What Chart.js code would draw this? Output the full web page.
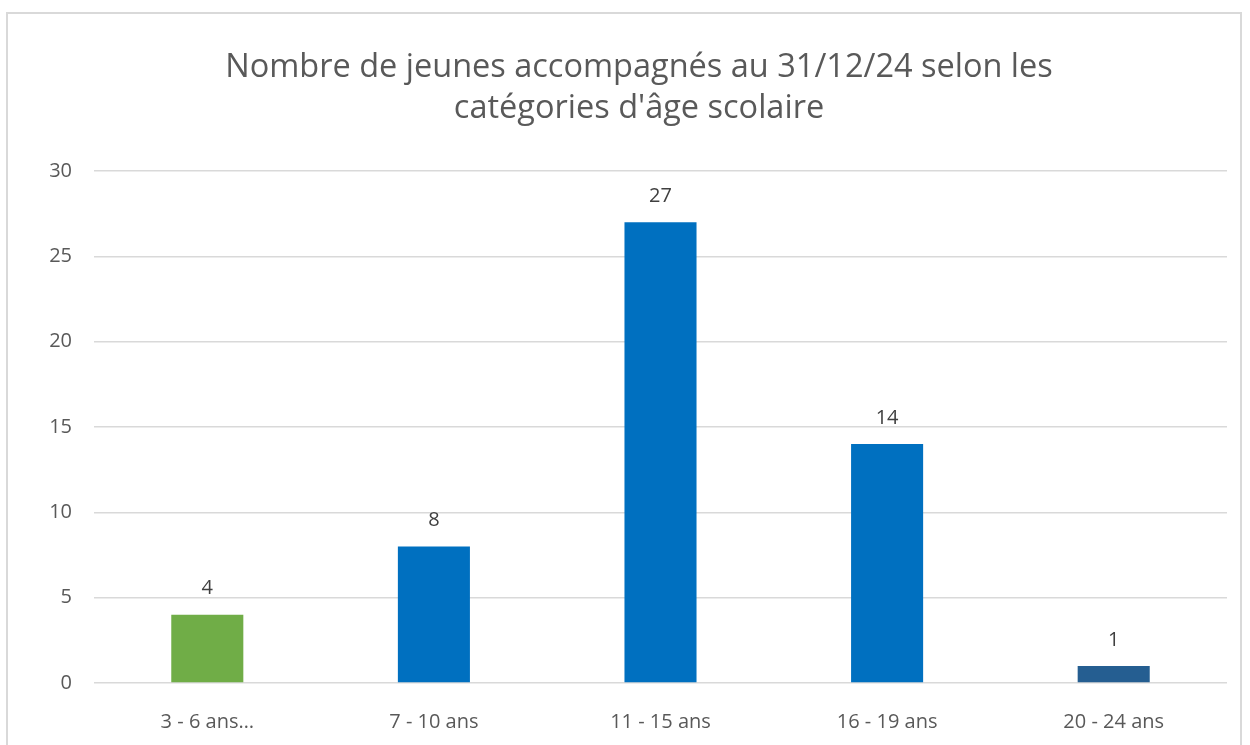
<!DOCTYPE html>
<html>
<head>
<meta charset="utf-8">
<script src="https://cdn.jsdelivr.net/npm/chart.js@4"></script>
<style>
  html, body { margin: 0; padding: 0; background: #fff; }
  #wrap { position: relative; width: 1250px; height: 745px; overflow: hidden; }
  #frame { position: absolute; left: 6px; top: 12px; width: 1236px; height: 760px; border: 2px solid #d9d9d9; box-sizing: border-box; }
  canvas { position: absolute; left: 0; top: 0; }
</style>
</head>
<body>
<div id="wrap">
  <div id="frame"></div>
  <canvas id="chart" width="1250" height="745"></canvas>
</div>
<script>
const titleLines = ["Nombre de jeunes accompagnés au 31/12/24 selon les", "catégories d'âge scolaire"];
const categories = ["3 - 6 ans…", "7 - 10 ans", "11 - 15 ans", "16 - 19 ans", "20 - 24 ans"];
const values = [4, 8, 27, 14, 1];
const barColors = ["#70ad47", "#0070c0", "#0070c0", "#0070c0", "#255e91"];
const yTicks = [0, 5, 10, 15, 20, 25, 30];

const fontFamily = "'Open Sans', 'Liberation Sans', sans-serif";

const titlePlugin = {
  id: "titleLines",
  afterDraw(chart) {
    const c = chart.ctx;
    c.save();
    c.fillStyle = "#595959";
    c.font = "32.5px " + fontFamily;
    c.textAlign = "center";
    c.textBaseline = "alphabetic";
    c.fillText(titleLines[0], 639, 77);
    c.fillText(titleLines[1], 639, 118);
    c.restore();
  }
};

const valueLabels = {
  id: "valueLabels",
  afterDatasetsDraw(chart) {
    const c = chart.ctx;
    const meta = chart.getDatasetMeta(0);
    c.save();
    c.fillStyle = "#404040";
    c.font = "20px " + fontFamily;
    c.textAlign = "center";
    c.textBaseline = "middle";
    meta.data.forEach((bar, i) => {
      c.fillText(String(values[i]), bar.x, bar.y - 26);
    });
    c.restore();
  }
};

new Chart(document.getElementById("chart").getContext("2d"), {
  type: "bar",
  data: {
    labels: categories,
    datasets: [{
      data: values,
      backgroundColor: barColors,
      borderWidth: 0,
      barPercentage: 0.636,
      categoryPercentage: 0.5
    }]
  },
  options: {
    responsive: false,
    animation: false,
    layout: { padding: { left: 0, right: 23, top: 171, bottom: 0 } },
    plugins: {
      legend: { display: false },
      title: { display: false },
      tooltip: { enabled: false }
    },
    scales: {
      x: {
        grid: { display: false },
        border: { display: false },
        ticks: { color: "#595959", font: { size: 20, family: fontFamily }, padding: 19 },
        afterFit(scale) { scale.height = 62; }
      },
      y: {
        min: 0,
        max: 30,
        afterBuildTicks(scale) { scale.ticks = yTicks.map(v => ({ value: v })); },
        grid: { color: "#d9d9d9", lineWidth: 1.5, drawTicks: false },
        border: { display: false },
        ticks: { color: "#595959", font: { size: 20, family: fontFamily }, padding: 22 },
        afterFit(scale) { scale.width = 94; }
      }
    }
  },
  plugins: [titlePlugin, valueLabels]
});
</script>
</body>
</html>
